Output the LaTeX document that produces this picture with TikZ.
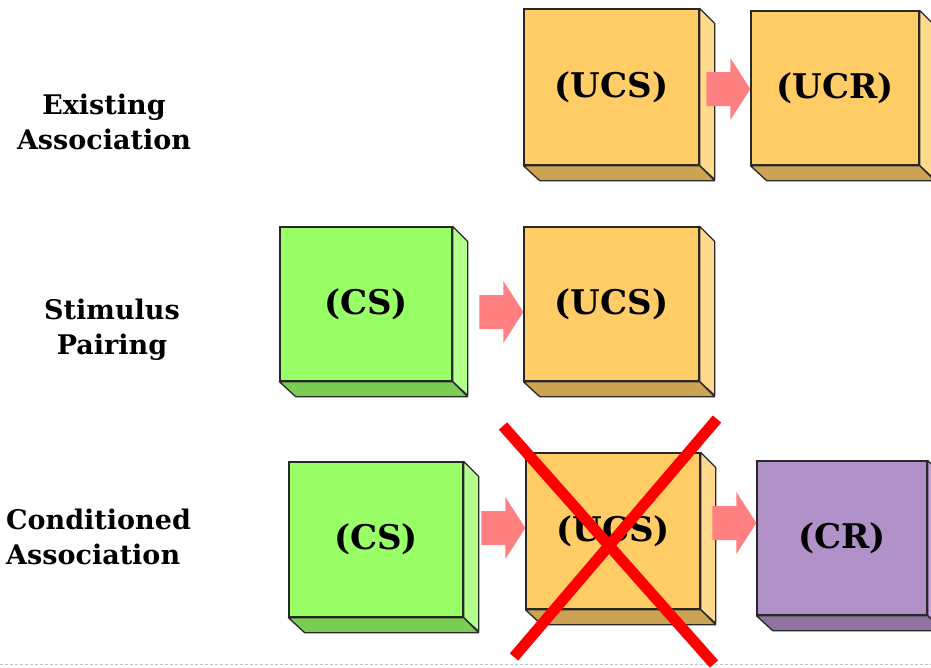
\documentclass[tikz,border=0pt]{standalone}
\usepackage{fontspec}
\setmainfont{DejaVu Serif}
\usetikzlibrary{calc}

% face colours of the three kinds of blocks
\definecolor{ucsfront}{RGB}{255,204,102}
\definecolor{ucsside}{RGB}{255,217,140}
\definecolor{ucsbottom}{RGB}{204,163,82}
\definecolor{csfront}{RGB}{153,255,102}
\definecolor{csside}{RGB}{179,255,140}
\definecolor{csbottom}{RGB}{122,204,82}
\definecolor{crfront}{RGB}{176,145,200}
\definecolor{crside}{RGB}{192,165,214}
\definecolor{crbottom}{RGB}{140,115,160}
\definecolor{edge}{RGB}{40,40,40}
\definecolor{pushpink}{RGB}{255,128,128}
\definecolor{rule}{RGB}{185,196,204}

\tikzset{
  blockface/.style={draw=edge, line width=1.3pt, inner sep=0pt,
    font=\bfseries\fontsize{34}{34}\selectfont},
  faceline/.style={draw=edge, line width=1.3pt, line join=round},
  rowlabel/.style={font=\bfseries\fontsize{27}{35}\selectfont, inner sep=0pt},
  pushfill/.style={fill=pushpink},
  crossline/.style={draw=red, line width=11pt},
}

% a block seen from the front, with its right side and bottom showing
% #1 name, #2 left, #3 top, #4 right, #5 bottom, #6 colour prefix, #7 text
\newcommand\cubeblock[7]{%
  \node[blockface, fill=#6front, minimum width=#4pt-#2pt, minimum height=#5pt-#3pt]
    (#1) at ({(#2+#4)/2},{(#3+#5)/2}) {#7};
  \filldraw[faceline, fill=#6side] (#1.north east) -- ++(15,15) -- ++(0,{#5-#3}) -- (#1.south east) -- cycle;
  \filldraw[faceline, fill=#6bottom] (#1.south west) -- (#1.south east) -- ++(15,15) -- ++({-(#4-#2)},0) -- cycle;
}

% a broad arrow whose tip touches the west side of node #1, shifted by #2
\newcommand\pushto[2]{%
  \fill[pushfill] ($(#1.west)+(0,#2)$) -- ++(-20,-31) -- ++(0,14) -- ++(-24,0)
    -- ++(0,34) -- ++(24,0) -- ++(0,14) -- cycle;
}

\begin{document}
\begin{tikzpicture}[x=1pt, y=-1pt]
\useasboundingbox (0,0) rectangle (931,667);
\clip (0,0) rectangle (931,667);
\fill[white] (0,0) rectangle (931,667);

% row labels
\node[rowlabel, align=center] (lexist) at (104,122) {Existing\\Association};
\node[rowlabel, align=center] (lpair)  at (112,330) {Stimulus\\Pairing};
\node[rowlabel, align=left, anchor=west] (lcond) at (6,537) {Conditioned\\Association};

% existing association
\cubeblock{ucsA}{524}{9}{699}{165}{ucs}{(UCS)}
\cubeblock{ucr}{751}{11}{919}{165}{ucs}{(UCR)}
\pushto{ucr}{1}

% stimulus pairing
\cubeblock{csB}{280}{227}{452}{381}{cs}{(CS)}
\cubeblock{ucsB}{524}{227}{699}{381}{ucs}{(UCS)}
\pushto{ucsB}{8}

% conditioned association
\cubeblock{csC}{289}{462}{463}{617}{cs}{(CS)}
\cubeblock{ucsC}{526}{453}{700}{609}{ucs}{(UCS)}
\cubeblock{cr}{757}{461}{927}{615}{cr}{(CR)}
\pushto{ucsC}{-3}
\pushto{cr}{-15}

% dashed rule along the foot
\draw[rule, line width=0.9pt, dash pattern=on 3pt off 2pt] (0,664) -- (931,664);

% the unconditioned stimulus is struck out
\coordinate (xa1) at (503,426);
\coordinate (xa2) at (714,664);
\coordinate (xb1) at (717,419);
\coordinate (xb2) at (514,657);
\draw[crossline] (xa1) -- (xa2);
\draw[crossline] (xb1) -- (xb2);
\end{tikzpicture}
\end{document}
